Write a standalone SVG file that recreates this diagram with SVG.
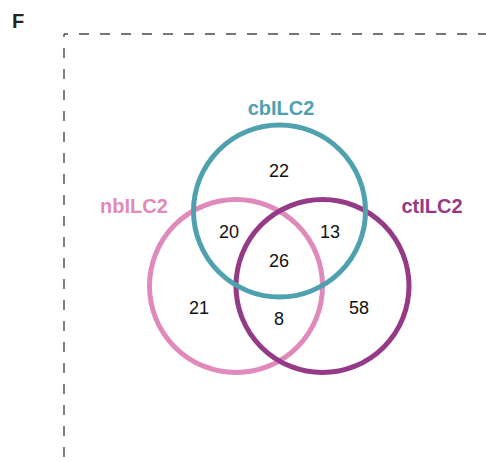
<svg xmlns="http://www.w3.org/2000/svg" width="486" height="462" viewBox="0 0 486 462">
<style>
.frame{fill:none;stroke:#4a4a4a;stroke-width:1.4;stroke-dasharray:10 11}
.ring{fill:none;stroke-width:5}
.lbl{font-family:"Liberation Sans",Arial,sans-serif;font-weight:bold;font-size:20px;text-anchor:middle}
.num{font-family:"Liberation Sans",Arial,sans-serif;font-size:18px;fill:#111;text-anchor:middle}
</style>
<rect width="486" height="462" fill="#ffffff"/>
<text x="12" y="28" font-family="Liberation Sans,Arial,sans-serif" font-weight="bold" font-size="20" fill="#222">F</text>
<g id="frame">
<line class="frame" x1="64" y1="34" x2="486" y2="34" stroke-dashoffset="6"/>
<line class="frame" x1="64" y1="34" x2="64" y2="462" stroke-dashoffset="7"/>
</g>
<g id="nbILC2">
<circle class="ring" cx="236" cy="286" r="86.5" stroke="#e08abb"/>
<text class="lbl" x="134" y="213" fill="#e08abb">nbILC2</text>
</g>
<g id="ctILC2">
<circle class="ring" cx="322.5" cy="286" r="86.5" stroke="#943a86"/>
<text class="lbl" x="432" y="213" fill="#943a86">ctILC2</text>
</g>
<g id="cbILC2">
<circle class="ring" cx="279.5" cy="211" r="86" stroke="#4fa1af"/>
<text class="lbl" x="281" y="115" fill="#4fa1af">cbILC2</text>
</g>
<g id="counts">
<text class="num" x="279" y="177">22</text>
<text class="num" x="229" y="238">20</text>
<text class="num" x="330" y="238">13</text>
<text class="num" x="279" y="267">26</text>
<text class="num" x="199" y="314">21</text>
<text class="num" x="359" y="314">58</text>
<text class="num" x="279" y="325">8</text>
</g>
</svg>
